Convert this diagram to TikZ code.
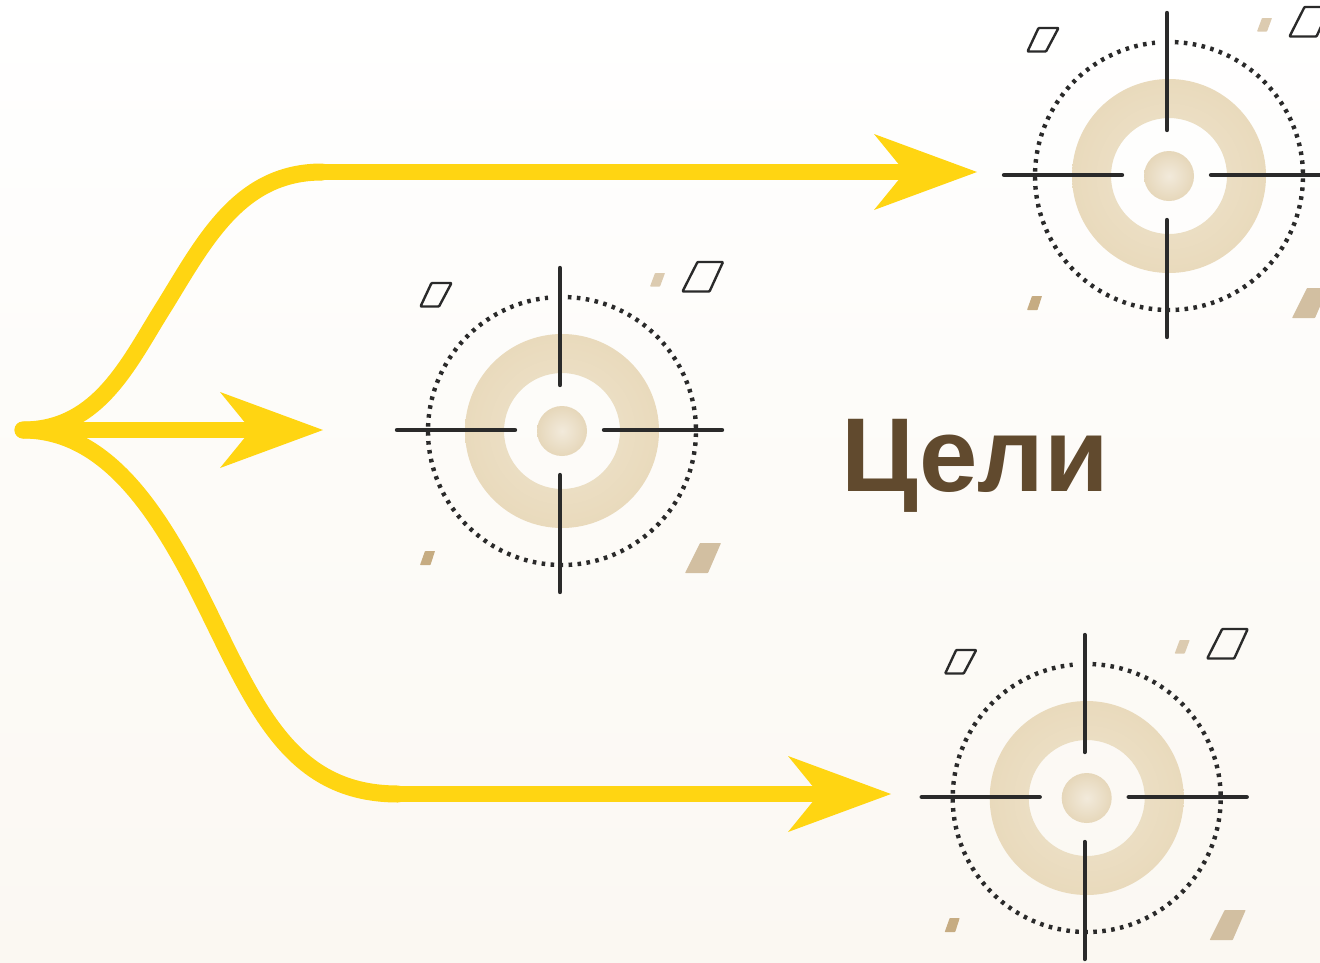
\documentclass[tikz,border=0pt]{standalone}
\usepackage{fontspec}
\setmainfont{Liberation Sans}
\usetikzlibrary{arrows.meta}
\definecolor{bgbot}{HTML}{FBF8F2}
\definecolor{flow}{HTML}{FFD512}
\definecolor{ink}{HTML}{2A2A2A}
\definecolor{title}{HTML}{614A2E}
\definecolor{ringa}{HTML}{EFE4CE}
\definecolor{ringb}{HTML}{E9DABC}
\definecolor{dota}{HTML}{F2EADB}
\definecolor{dotb}{HTML}{E6D7BA}
\definecolor{tanlight}{HTML}{DCCBB0}
\definecolor{tanmid}{HTML}{D2BFA1}
\definecolor{tandark}{HTML}{C6AC82}
\tikzset{
  x=1pt,y=-1pt,
  flowline/.style={draw=flow,line width=17pt,line cap=round,line join=round},
  flowhead/.style={-{Stealth[length=103pt,width=76pt,inset=31pt,line width=0pt,sharp]}},
  hair/.style={draw=ink,line width=4.4pt,line cap=round},
  dotring/.style={draw=ink,line width=4.4pt,dash pattern=on 3.6pt off 5.4pt},
  outline/.style={draw=ink,line width=2.4pt,rounded corners=0.8pt,line join=round},
  chip/.style={rounded corners=0.6pt},
  target/.pic={
    \shade[even odd rule,inner color=ringa,outer color=ringb]
      (2,1) circle[radius=97pt] (2,1) circle[radius=58pt];
    \shade[inner color=dota,outer color=dotb] (2,1) circle[radius=25pt];
    \draw[dotring] ({2+134*cos(87.5)},{1-134*sin(87.5)})
      arc[start angle=87.5,end angle=-264,radius=134pt];
    \draw[hair] (0,-162) -- (0,-45);
    \draw[hair] (0,45) -- (0,162);
    \draw[hair] (-163,0) -- (-45,0);
    \draw[hair] (44,0) -- (162,0);
    \draw[outline] (-139.5,-123.5) -- (-121,-123.5) -- (-108.5,-147) -- (-128.5,-147) -- cycle;
    \draw[outline] (122.5,-138.5) -- (149.5,-138.5) -- (163,-168) -- (137.5,-168) -- cycle;
    \fill[tanlight,chip] (90,-143.5) -- (95,-157) -- (105,-157) -- (100,-143.5) -- cycle;
    \fill[tandark,chip] (-140,135) -- (-135,121) -- (-125,121) -- (-129.5,135) -- cycle;
    \fill[tanmid,chip] (125,143) -- (140,113) -- (161,113) -- (148,143) -- cycle;
  }
}
\begin{document}
\begin{tikzpicture}
\clip (0,0) rectangle (1320,962);
\shade[top color=white,bottom color=bgbot,middle color=white!45!bgbot] (0,0) rectangle (1320,962);
\coordinate (src) at (23,430);
\coordinate (bendtop) at (322,172);
\coordinate (bendbot) at (398,794);
\coordinate (aimtop) at (977,172);
\coordinate (aimmid) at (323,430);
\coordinate (aimbot) at (891,794);
\pic at (560,430) {target};
\pic at (1167,175) {target};
\pic at (1084.7,797) {target};
\draw[flowline] (src) .. controls (100,430) and (130,360) .. (165,305)
  .. controls (205,240) and (240,172) .. (bendtop);
\draw[flowline] (src) .. controls (100,430) and (150,500) .. (190,575)
  .. controls (250,690) and (280,794) .. (bendbot);
\draw[flow,line width=16pt,flowhead] (bendtop) -- (aimtop);
\draw[flow,line width=16pt,flowhead] (bendbot) -- (aimbot);
\draw[flow,line width=16pt,flowhead] (src) -- (aimmid);
\node[text=title,font=\bfseries\fontsize{105pt}{105pt}\selectfont,anchor=base west,inner sep=0pt] (goal) at (841,491) {Цели};
\end{tikzpicture}
\end{document}
